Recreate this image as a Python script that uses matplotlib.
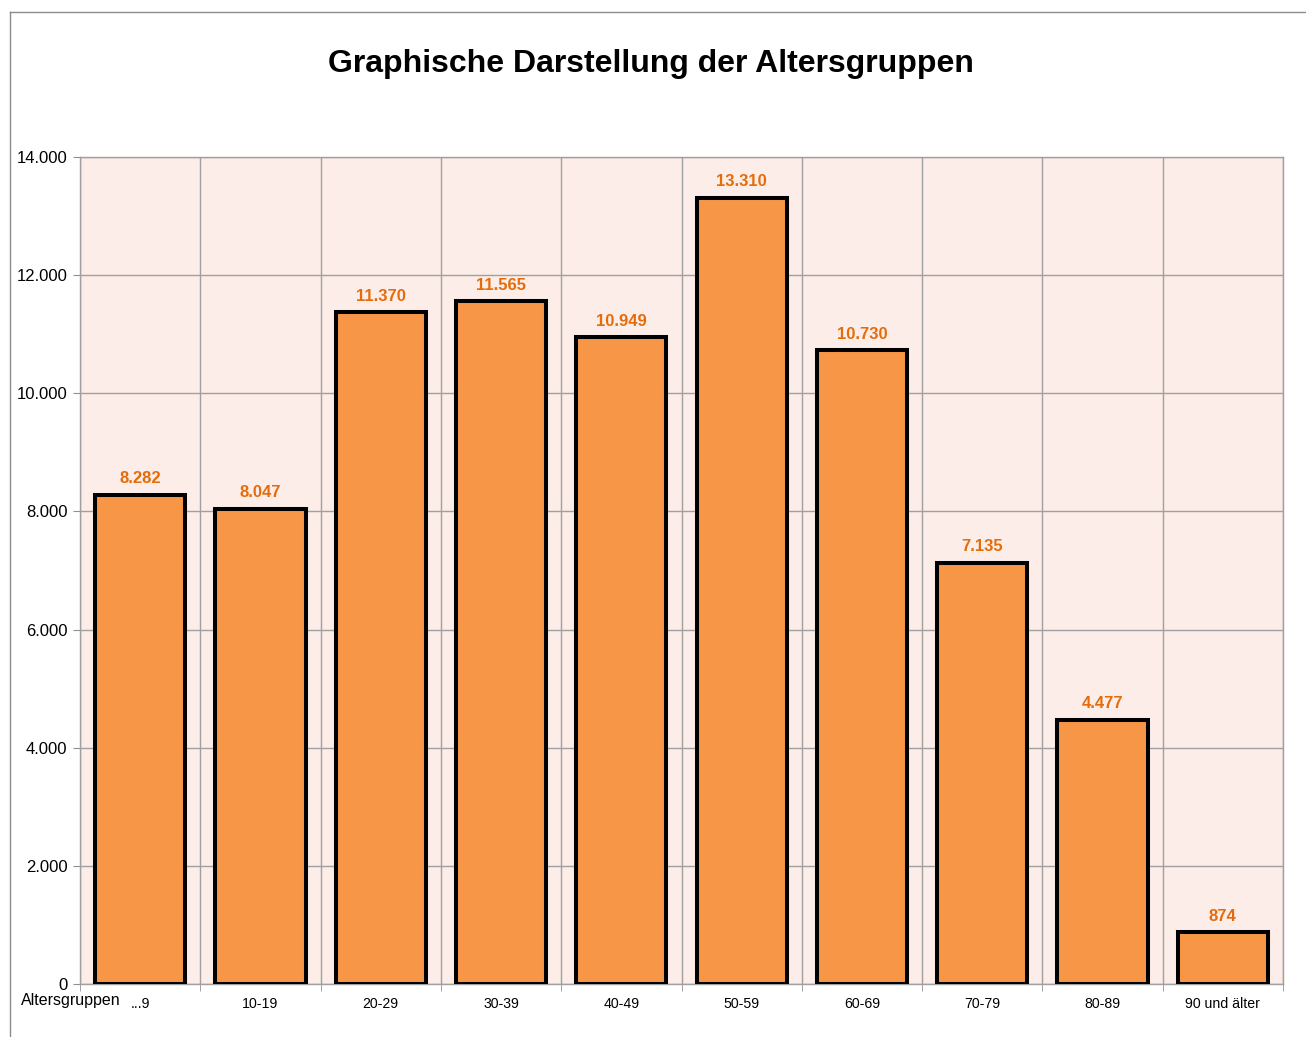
import matplotlib.pyplot as plt
from matplotlib.lines import Line2D

# Altersgruppen und Anzahl
categories = ['...9', '10-19', '20-29', '30-39', '40-49', '50-59',
              '60-69', '70-79', '80-89', '90 und älter']
values = [8282, 8047, 11370, 11565, 10949, 13310, 10730, 7135, 4477, 874]
y_ticks = [0, 2000, 4000, 6000, 8000, 10000, 12000, 14000]

plt.rcParams['font.family'] = ['Liberation Sans', 'DejaVu Sans']

def fmt(v):
    # deutsches Tausendertrennzeichen
    return f'{v:,}'.replace(',', '.')

fig = plt.figure(figsize=(13.06, 10.37), dpi=100)
ax = fig.add_axes([0.0613, 0.0511, 0.9211, 0.7975])
ax.set_facecolor('#FCEDE8')

x = list(range(len(categories)))
bars = ax.bar(x, values, width=0.75, color='#F79646', edgecolor='black',
              linewidth=2.9, zorder=3)

for xi, v in zip(x, values):
    ax.annotate(fmt(v), (xi, v), xytext=(0, 6), textcoords='offset points',
                ha='center', va='bottom', fontsize=12, fontweight='bold',
                color='#E46C0A', zorder=4)

ax.set_xlim(-0.5, len(categories) - 0.5)
ax.set_ylim(0, 14000)
ax.set_yticks(y_ticks)
ax.set_yticklabels([fmt(t) for t in y_ticks], fontsize=12)
ax.set_xticks(x)
ax.set_xticklabels(categories, fontsize=10.2)
ax.tick_params(axis='x', length=0, pad=9)
ax.tick_params(axis='y', length=5, color='#909090', pad=4)

# Gitter zwischen den Kategorien und an den y-Ticks
ax.set_xticks([i + 0.5 for i in range(-1, len(categories))], minor=True)
ax.tick_params(axis='x', which='minor', length=5, color='#909090')
ax.grid(axis='x', which='minor', color='#A0A0A0', linewidth=1, zorder=1)
ax.grid(axis='y', which='major', color='#A0A0A0', linewidth=1, zorder=1)
for s in ax.spines.values():
    s.set_color('#A0A0A0')
    s.set_linewidth(1)

fig.text(121 / 1306, 1 - 1001 / 1037, 'Altersgruppen', ha='right',
         va='center', fontsize=11.5)

fig.text(0.4985, 1 - 64 / 1037, 'Graphische Darstellung der Altersgruppen',
         ha='center', va='center', fontsize=23, fontweight='bold')

# Rahmen des Diagrammbereichs (oben und links)
fx0 = 10 / 1306
fy0 = 1 - 12 / 1037
fig.add_artist(Line2D([fx0, 1], [fy0, fy0], transform=fig.transFigure,
                      color='#8C8C8C', linewidth=1))
fig.add_artist(Line2D([fx0, fx0], [0, fy0], transform=fig.transFigure,
                      color='#8C8C8C', linewidth=1))

fig.savefig('out.png', dpi=100)
